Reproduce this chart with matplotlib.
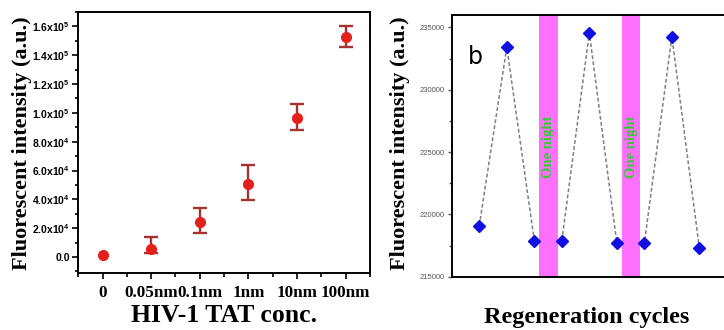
import numpy as np
import matplotlib.pyplot as plt
from matplotlib.ticker import MultipleLocator, FuncFormatter

# panel a: signal vs HIV-1 TAT concentration
conc_labels = ["0", "0.05nm", "0.1nm", "1nm", "10nm", "100nm"]
intensity = [1600, 5500, 24500, 50600, 96500, 152900]
err_low = [0, 2800, 7600, 10900, 8100, 7400]
err_high = [0, 8400, 9200, 12900, 9500, 7600]

# panel b: regeneration cycles
cycle = [1, 2, 3, 4, 5, 6, 7, 8, 9]
regen = [219100, 233400, 217900, 217900, 234550, 217700, 217700, 234250, 217300]
night_bands = [(3.18, 3.85), (6.18, 6.85)]

plt.rcParams["mathtext.default"] = "regular"
serif = "Liberation Serif"
sans = "Liberation Sans"

fig = plt.figure(figsize=(7.24, 3.30), dpi=100)

# ---- left panel ----
ax1 = fig.add_axes([0.108, 0.173, 0.403, 0.791])
x = np.arange(len(conc_labels))
ax1.errorbar(x[1:], intensity[1:], yerr=[err_low[1:], err_high[1:]], fmt="none",
             ecolor="#a83232", elinewidth=1.7, capsize=5, capthick=1.7, zorder=2)
ax1.plot(x, intensity, "o", color="#e3201c", markersize=7, zorder=3)
ax1.set_xlim(-0.5, 5.5)
ax1.set_ylim(-11000, 170000)
ax1.set_xticks(x)
ax1.set_xticks(np.arange(-0.5, 5.6, 1.0), minor=True)
ax1.set_xticklabels(conc_labels, fontfamily=serif, fontweight="bold", fontsize=12.3)
ax1.yaxis.set_major_locator(MultipleLocator(20000))
ax1.yaxis.set_minor_locator(MultipleLocator(10000))


def sci(v, pos):
    if abs(v) < 1:
        return "0.0"
    e = int(np.floor(np.log10(abs(v))))
    return "%.1fx10$^{%d}$" % (v / 10 ** e, e)


ax1.yaxis.set_major_formatter(FuncFormatter(sci))
for lab in ax1.get_yticklabels():
    lab.set_fontfamily(sans)
    lab.set_fontweight("bold")
    lab.set_fontsize(7.5)
ax1.tick_params(which="both", direction="out", width=1.2)
ax1.tick_params(which="major", length=4, pad=2)
ax1.tick_params(which="minor", length=2.5)
ax1.tick_params(axis="x", which="major", length=4, pad=5)
ax1.tick_params(axis="x", which="minor", length=3)
for s in ax1.spines.values():
    s.set_linewidth(1.4)

fig.text(0.030, 0.565, "Fluorescent intensity (a.u.)", rotation=90, ha="center", va="center",
         fontfamily=serif, fontweight="bold", fontsize=16)
fig.text(0.309, 0.045, "HIV-1 TAT conc.", ha="center", va="center",
         fontfamily=serif, fontweight="bold", fontsize=18.5)

# ---- right panel ----
ax2 = fig.add_axes([0.624, 0.161, 0.38, 0.794])
ax2.plot(cycle, regen, linestyle=(0, (2.5, 1.5)), color="#808080", linewidth=1.1, zorder=1)
for a, b in night_bands:
    ax2.axvspan(a, b, color="#ff70ff", zorder=2, linewidth=0)
    ax2.text((a + b) / 2, 225400, "One night", rotation=90, ha="center", va="center",
             color="#33cc33", fontfamily=serif, fontweight="bold", fontsize=10.5, zorder=3)
ax2.plot(cycle, regen, "D", color="#1010e0", markersize=6, linestyle="none", zorder=4)
ax2.set_xlim(0, 10)
ax2.set_ylim(215000, 236000)
ax2.set_xticks([])
ax2.yaxis.set_major_locator(MultipleLocator(5000))
ax2.yaxis.set_minor_locator(MultipleLocator(2500))
for lab in ax2.get_yticklabels():
    lab.set_fontfamily(sans)
    lab.set_fontsize(5.5)
    lab.set_color("#555555")
ax2.tick_params(which="both", direction="out", width=1.0, color="#555555")
ax2.tick_params(which="major", length=3, pad=2)
ax2.tick_params(which="minor", length=2)
for s in ax2.spines.values():
    s.set_linewidth(1.4)
ax2.text(0.6, 232600, "b", fontfamily="DejaVu Sans", fontsize=17, ha="left", va="center")

fig.text(0.553, 0.565, "Fluorescent intensity (a.u.)", rotation=90, ha="center", va="center",
         fontfamily=serif, fontweight="bold", fontsize=16)
fig.text(0.81, 0.038, "Regeneration cycles", ha="center", va="center",
         fontfamily=serif, fontweight="bold", fontsize=17.5)

fig.savefig("out.png", dpi=100)
